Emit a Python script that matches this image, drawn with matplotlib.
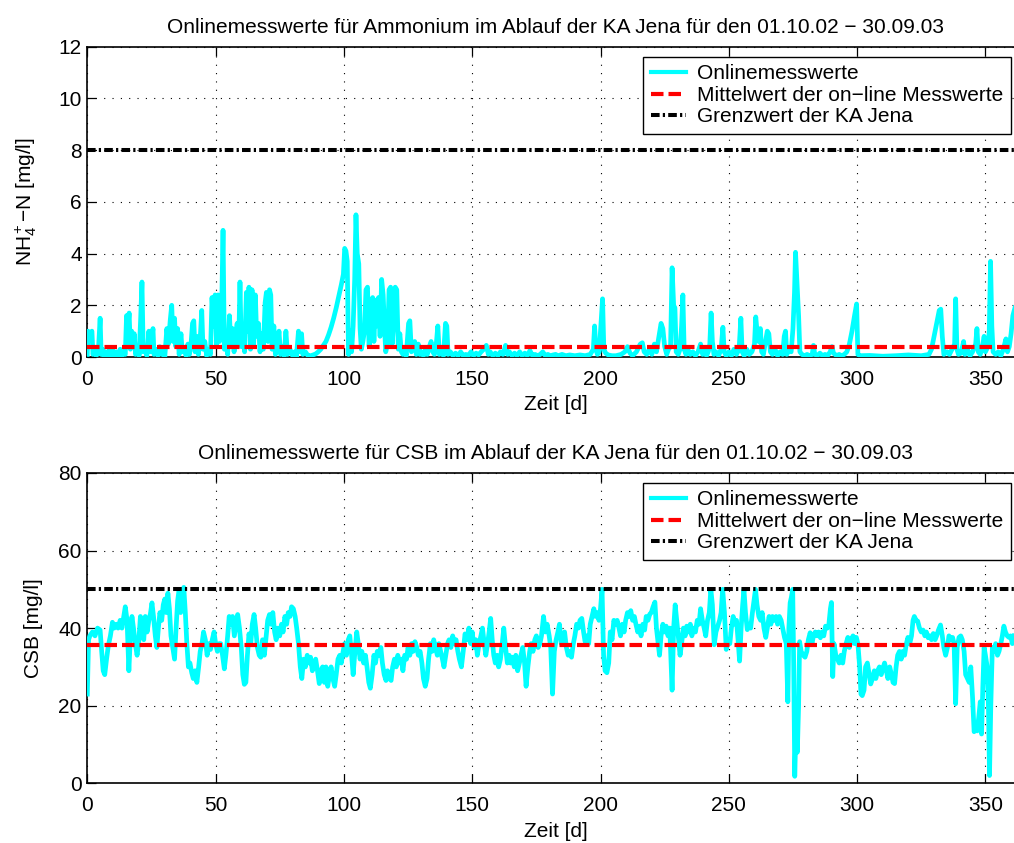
import matplotlib
matplotlib.use("Agg")
import matplotlib.pyplot as plt
from matplotlib.lines import Line2D

plt.rcParams['font.family'] = ['Liberation Sans', 'DejaVu Sans']
plt.rcParams['mathtext.fontset'] = 'custom'
plt.rcParams['mathtext.rm'] = 'Liberation Sans'
plt.rcParams['mathtext.it'] = 'Liberation Sans:italic'
plt.rcParams['mathtext.bf'] = 'Liberation Sans:bold'
plt.rcParams['lines.scale_dashes'] = False

# ---------------- data ----------------
x_ticks = [0, 50, 100, 150, 200, 250, 300, 350]
nh4_yticks = [0, 2, 4, 6, 8, 10, 12]
csb_yticks = [0, 20, 40, 60, 80]

nh4_days = [
    0, 0.3, 1, 1.8, 2.2, 3, 3.5, 4.3, 5, 5.4, 6, 6.5, 7.2, 8, 8.7, 9.3, 10, 10.6, 11.3, 12,
    12.8, 13.5, 14.2, 14.8, 15.3, 15.8, 16.3, 16.8, 17.3, 17.8, 18.3, 18.8, 19.5, 20.2, 20.8,
    21.3, 21.8, 22.5, 23.2, 24, 24.5, 25, 25.6, 26, 26.8, 27.5, 28.2, 29, 29.6, 30.2, 31,
    31.6, 32.3, 32.9, 33.4, 34, 34.5, 35.2, 35.8, 36.5, 37, 37.8, 38.5, 39.2, 39.8, 40.5, 41,
    41.5, 42, 42.7, 43.3, 44, 44.6, 45.1, 45.8, 46.5, 47.2, 48, 48.6, 49.2, 49.8, 50.4, 51,
    51.5, 52.2, 52.9, 53.4, 54, 54.7, 55.4, 56, 56.6, 57.2, 57.8, 58.4, 59, 59.5, 60, 60.5,
    61.3, 62, 62.5, 63, 63.6, 64.2, 64.8, 65.5, 66, 66.7, 67.3, 68, 68.6, 69.3, 69.8, 70.4,
    71, 71.5, 72, 72.7, 73.3, 74, 74.7, 75.3, 76, 76.7, 77.4, 78, 79, 80, 80.8, 81.5, 82.3,
    82.8, 83.5, 84, 85, 86, 87, 88, 89, 90, 91, 92, 93, 94, 95, 96, 97, 98, 99, 99.8, 100.3,
    100.8, 101.3, 101.8, 102.4, 103, 103.6, 104.2, 104.7, 105.2, 105.8, 106.3, 106.8, 107.4,
    108, 108.6, 109.2, 109.8, 110.5, 111.2, 111.7, 112.3, 112.9, 113.5, 114.1, 114.7, 115.3,
    115.8, 116.3, 117, 117.6, 118.2, 118.8, 119.4, 120, 120.6, 121.2, 121.8, 122.4, 123,
    123.6, 124.3, 125.2, 125.7, 126.3, 127, 127.6, 128.2, 129, 129.6, 130.3, 131, 131.8,
    132.5, 133.3, 134, 134.6, 135.3, 136, 136.6, 137.2, 138, 138.8, 139.6, 140.1, 140.6,
    141.5, 142.5, 143.5, 144.5, 145.5, 146.5, 147.5, 148.5, 149.5, 150.5, 151.5, 152.5,
    153.5, 154.5, 155.5, 156.3, 157, 158, 159, 160, 161, 162, 163, 163.8, 164.5, 165.5,
    166.5, 167.5, 168.5, 169.5, 170.5, 171.5, 172.5, 173.5, 174.5, 175.5, 176.5, 177.5,
    178.5, 179.5, 180.5, 181.5, 182.5, 183.5, 185, 186.5, 188, 190, 192, 194, 196, 197.2,
    197.7, 198.2, 198.8, 199.5, 200.3, 200.8, 201.3, 202, 203, 204.5, 206, 208, 209.5, 210.5,
    211.5, 212.5, 214, 215.5, 216.3, 217, 218, 219, 220, 221, 221.8, 222.8, 223.6, 224.3,
    225, 225.8, 226.5, 227.3, 227.9, 228.5, 229, 229.5, 230.3, 231, 231.6, 232.1, 232.6,
    233.3, 234, 235, 236, 237, 238, 239, 239.8, 240.5, 241.3, 242, 242.6, 243.1, 243.6,
    244.2, 245, 246, 247, 247.7, 248.2, 249, 250, 251, 252, 253, 254, 254.7, 255.2, 256,
    257, 258, 259, 260, 260.5, 261, 261.6, 262.3, 262.8, 263.5, 264.3, 265, 265.6, 266.2,
    267, 268, 269, 270, 271, 271.6, 272.1, 272.6, 273.5, 274.3, 275, 275.6, 276, 276.5,
    277.2, 277.7, 278.5, 279.5, 280.5, 281.5, 282.5, 283, 283.5, 284.5, 285.5, 286.5, 287.5,
    288.5, 289.5, 290.2, 290.8, 292, 293, 294, 295, 296, 297, 298, 299, 299.8, 300.3, 301,
    305, 310, 315, 320, 325, 328, 329, 330, 331, 332, 332.6, 333.2, 333.8, 335, 336, 337,
    338, 338.4, 338.9, 339.5, 340.5, 341.5, 342, 343, 344, 345, 346.2, 346.7, 347.2, 348,
    349, 349.5, 350, 351, 351.5, 352, 352.5, 353, 354, 355, 356, 357, 358, 358.6, 359.3,
    360, 360.7, 361.5]
nh4_vals = [
    0.1, 1.0, 0.9, 1.0, 0.1, 0.3, 0.05, 0.2, 1.5, 0.1, 0.3, 0.05, 0.2, 0.0, 0.3, 0.05, 0.25,
    0.0, 0.2, 0.05, 0.3, 0.05, 0.2, 0.1, 1.6, 1.1, 1.7, 0.3, 1.0, 0.5, 0.9, 0.1, 0.3, 0.05,
    1.5, 2.9, 0.2, 0.4, 0.05, 1.0, 0.2, 0.6, 1.1, 0.1, 0.3, 0.05, 0.4, 0.1, 0.3, 0.0, 1.1,
    0.5, 1.4, 2.0, 0.6, 1.5, 0.4, 1.1, 0.1, 0.9, 0.2, 0.3, 0.05, 0.5, 0.1, 0.6, 1.3, 1.4,
    0.2, 0.8, 0.1, 0.7, 1.8, 0.3, 0.6, 0.05, 0.3, 0.1, 2.3, 1.2, 2.4, 0.4, 2.4, 0.6, 1.0,
    4.9, 0.3, 0.6, 0.1, 1.6, 0.4, 1.1, 0.2, 0.9, 1.3, 0.5, 2.9, 0.4, 1.0, 0.2, 2.5, 1.0,
    2.7, 0.3, 2.6, 0.4, 2.4, 0.8, 1.3, 0.2, 0.9, 0.3, 2.1, 2.5, 0.6, 2.6, 2.4, 0.3, 1.2,
    0.1, 0.3, 1.0, 0.1, 0.4, 0.05, 1.0, 0.1, 0.3, 0.05, 0.2, 0.0, 1.0, 0.2, 0.9, 0.1, 0.2,
    0.05, 0.05, 0.08, 0.12, 0.2, 0.3, 0.45, 0.6, 0.85, 1.15, 1.5, 1.9, 2.35, 2.8, 3.2, 4.2,
    4.1, 3.7, 0.1, 1.0, 0.2, 1.2, 3.0, 5.5, 4.0, 3.6, 1.1, 0.3, 0.6, 1.0, 2.6, 2.7, 0.4,
    1.1, 2.3, 0.6, 2.2, 1.2, 2.3, 0.8, 3.0, 2.4, 1.2, 0.2, 0.5, 2.6, 2.7, 0.5, 1.3, 2.7,
    2.6, 0.3, 0.9, 0.2, 0.1, 0.3, 0.05, 1.3, 1.4, 0.2, 0.5, 0.6, 0.1, 0.5, 0.1, 0.2, 0.05,
    0.3, 0.1, 0.4, 0.6, 0.2, 0.1, 0.5, 1.2, 0.1, 0.2, 0.05, 1.3, 1.2, 0.1, 0.2, 0.05, 0.15,
    0.05, 0.2, 0.05, 0.1, 0.05, 0.2, 0.05, 0.15, 0.08, 0.2, 0.3, 0.45, 0.1, 0.2, 0.05, 0.15,
    0.05, 0.2, 0.1, 0.45, 0.1, 0.2, 0.05, 0.15, 0.05, 0.2, 0.05, 0.15, 0.05, 0.25, 0.05,
    0.1, 0.05, 0.1, 0.2, 0.05, 0.1, 0.05, 0.08, 0.1, 0.05, 0.1, 0.05, 0.08, 0.05, 0.08,
    0.05, 0.1, 0.3, 1.2, 0.3, 0.1, 0.2, 1.5, 2.25, 0.3, 0.15, 0.08, 0.05, 0.05, 0.1, 0.2,
    0.4, 0.15, 0.05, 0.2, 0.5, 0.55, 0.2, 0.1, 0.3, 0.1, 0.5, 0.2, 0.8, 1.3, 1.1, 0.4, 0.1,
    0.3, 0.4, 3.45, 2.0, 1.9, 0.2, 0.1, 0.3, 1.2, 2.4, 0.3, 0.1, 0.3, 0.1, 0.2, 0.05, 0.2,
    0.5, 0.1, 0.3, 0.05, 0.2, 0.5, 1.7, 0.6, 0.1, 0.2, 0.05, 0.3, 1.15, 0.2, 0.05, 0.2,
    0.05, 0.3, 0.1, 0.3, 1.5, 0.2, 0.05, 0.3, 0.1, 0.2, 0.5, 1.55, 1.0, 0.6, 1.1, 0.2, 0.1,
    0.6, 1.0, 0.9, 0.2, 0.1, 0.3, 0.05, 0.2, 0.1, 0.8, 1.0, 0.1, 0.3, 0.2, 1.1, 2.5, 4.05,
    3.0, 1.6, 0.2, 0.1, 0.05, 0.1, 0.05, 0.1, 0.45, 0.1, 0.05, 0.15, 0.05, 0.1, 0.05, 0.2,
    0.4, 0.15, 0.05, 0.1, 0.05, 0.1, 0.2, 0.5, 1.0, 1.6, 2.05, 0.1, 0.05, 0.06, 0.03, 0.05,
    0.08, 0.05, 0.1, 0.3, 0.8, 1.3, 1.8, 1.85, 0.8, 0.1, 0.2, 0.1, 0.3, 0.5, 2.25, 0.3, 0.1,
    0.15, 0.6, 0.1, 0.3, 0.05, 0.2, 0.5, 1.1, 0.2, 0.1, 0.5, 0.8, 0.2, 0.4, 1.0, 3.7, 1.2,
    0.2, 0.1, 0.2, 0.05, 0.3, 0.7, 0.2, 0.4, 0.9, 1.6, 1.9]
nh4_mean = 0.37
nh4_limit = 8

csb_days = [
    0, 0.5, 1, 2, 3, 4, 5, 5.6, 6.2, 6.8, 7.5, 8.2, 9, 9.8, 10.5, 11.3, 12, 12.8, 13.5, 14.2,
    14.8, 15.5, 16.2, 16.8, 17.4, 18, 18.7, 19.4, 20, 20.7, 21.4, 22, 22.6, 23.3, 24, 24.6,
    25.2, 25.8, 26.5, 27.1, 27.7, 28.3, 29, 29.6, 30.2, 30.8, 31.4, 32, 32.6, 33.3, 34,
    34.6, 35.2, 35.8, 36.4, 37, 37.6, 38.2, 38.8, 39.4, 40, 40.7, 41.3, 42, 42.7, 43.4, 44,
    44.7, 45.3, 46, 46.7, 47.4, 48, 48.7, 49.4, 50, 50.7, 51.4, 52, 52.7, 53.4, 54, 54.7,
    55.3, 56, 56.6, 57.3, 58, 58.6, 59.3, 60, 60.6, 61.2, 61.8, 62.4, 63, 63.7, 64.3, 65,
    65.6, 66.3, 67, 67.6, 68.3, 69, 69.7, 70.3, 71, 71.6, 72.3, 73, 73.6, 74.3, 75, 75.7,
    76.3, 77, 77.7, 78.3, 79, 79.6, 80.3, 81, 81.6, 82.3, 83, 83.6, 84.3, 85, 85.7, 86.4,
    87, 87.7, 88.4, 89, 89.7, 90.4, 91, 91.7, 92.4, 93, 93.7, 94.4, 95, 95.7, 96.4, 97,
    97.7, 98.4, 99, 99.7, 100.3, 101, 101.7, 102.3, 103, 103.6, 104.3, 105, 105.6, 106.3,
    107, 107.7, 108.4, 109, 109.7, 110.3, 111, 111.7, 112.3, 113, 113.7, 114.4, 115, 115.7,
    116.4, 117, 117.7, 118.4, 119, 119.7, 120.4, 121, 121.7, 122.4, 123, 123.7, 124.4, 125,
    125.7, 126.4, 127, 127.7, 128.4, 129, 129.7, 130.4, 131, 131.7, 132.4, 133, 133.7,
    134.4, 135, 135.7, 136.4, 137, 137.7, 138.4, 139, 139.7, 140.4, 141, 141.7, 142.4, 143,
    143.7, 144.4, 145, 145.8, 146.5, 147.2, 148, 148.7, 149.4, 150, 150.7, 151.4, 152,
    152.7, 153.4, 154, 154.7, 155.3, 156, 156.6, 157.2, 157.8, 158.4, 159, 159.7, 160.3,
    161, 161.7, 162.3, 163, 163.7, 164.4, 165, 165.7, 166.4, 167, 167.7, 168.4, 169, 169.7,
    170.4, 171, 171.7, 172.4, 173, 173.7, 174.4, 175, 175.7, 176.4, 177, 177.8, 178.5,
    179.2, 180, 180.6, 181.3, 182, 182.7, 183.4, 184, 184.7, 185.4, 186, 186.7, 187.4, 188,
    188.7, 189.4, 190, 190.7, 191.4, 192, 192.7, 193.4, 194, 194.7, 195.4, 196, 196.7,
    197.4, 198, 198.7, 199.4, 200, 200.6, 201.2, 201.8, 202.5, 203.2, 203.8, 204.5, 205.2,
    205.8, 206.5, 207.2, 207.8, 208.5, 209.2, 209.8, 210.5, 211.2, 211.8, 212.5, 213.2,
    213.8, 214.5, 215.2, 215.8, 216.5, 217.2, 217.8, 218.5, 219.2, 219.8, 220.5, 221.2,
    221.8, 222.5, 223, 223.6, 224.3, 225, 225.6, 226.3, 227, 227.9, 228.5, 229.1, 229.7,
    230.3, 231, 231.6, 232.3, 233, 233.6, 234.3, 235, 235.6, 236.3, 237, 237.7, 238.4, 239,
    239.7, 240.4, 241, 241.7, 242.4, 243, 243.6, 244.3, 245, 245.7, 246.4, 247, 247.6,
    248.3, 249, 249.7, 250.4, 251, 251.7, 252.4, 253, 253.6, 254.2, 254.8, 255.4, 255.9,
    256.5, 257.2, 257.8, 258.5, 259.2, 259.8, 260.4, 261, 261.7, 262.4, 263, 263.7, 264.4,
    265, 265.7, 266.4, 267, 267.7, 268.4, 269, 269.7, 270.4, 271, 271.7, 272.4, 273, 273.4,
    273.9, 274.4, 274.9, 275.3, 275.7, 276.2, 276.7, 277.2, 277.6, 278.2, 279, 279.7,
    280.4, 281, 281.7, 282.4, 283, 283.7, 284.4, 285, 285.7, 286.4, 287, 287.7, 288.4, 289,
    289.6, 290, 290.5, 291, 291.7, 292.4, 293, 293.7, 294.4, 295, 295.7, 296.4, 297, 297.7,
    298.4, 299, 299.7, 300.3, 301, 301.5, 302, 302.7, 303.3, 304, 304.7, 305.3, 306, 306.7,
    307.3, 308, 308.7, 309.4, 310, 310.7, 311.4, 312, 312.7, 313.4, 314, 314.6, 315.2,
    315.8, 316.5, 317.2, 317.8, 318.5, 319.2, 319.8, 320.5, 321.2, 321.8, 322.3, 323, 323.6,
    324.3, 325, 325.7, 326.4, 327, 327.7, 328.4, 329, 329.7, 330.4, 331, 331.7, 332.5,
    333.2, 333.8, 334.5, 335.2, 335.8, 336.5, 337.2, 337.8, 338.4, 339, 339.7, 340.4, 341,
    341.7, 342.3, 343, 343.7, 344.3, 345, 345.6, 346.2, 346.8, 347.4, 348, 348.5, 349,
    349.5, 350, 350.7, 351.2, 351.6, 352.1, 352.7, 353.3, 354, 354.7, 355.3, 356, 356.6,
    357.2, 357.8, 358.5, 359.2, 359.8, 360.5, 361.2]
csb_vals = [
    23, 37, 38, 39, 38, 40, 39.5, 34, 29, 28, 32, 35.5, 38, 41.5, 40, 41, 40, 42, 40, 43,
    45.5, 42, 29, 38, 43, 40, 36, 33, 36, 43, 40, 37, 43, 39, 42, 43.7, 46.5, 43, 38, 35,
    40, 44, 42, 46, 47.5, 44, 49, 45, 38, 35, 32, 40, 47, 50, 44, 48, 50.5, 44, 36, 30, 31,
    28.5, 27, 29, 26, 30, 34, 36, 39, 37, 33, 36, 34.5, 37, 39, 36, 34, 36, 36, 33, 29.5,
    33, 38, 43, 41, 43, 38, 41, 43.5, 40, 35, 28, 25.5, 26, 33, 38.5, 36, 41, 43.5, 40, 35,
    33, 32.5, 37, 33, 38, 42, 43.5, 41, 44, 39, 37, 40, 38, 41, 39, 43, 41, 44, 43, 45.5,
    45, 43, 40, 36, 30, 27, 32, 30, 33, 31, 32.5, 29, 31, 32, 29, 25.7, 29, 30, 26, 30, 25,
    28, 30, 27, 25, 28, 32, 33, 31, 34, 36, 33, 37, 38, 33, 28, 34, 39, 36, 32, 34, 31, 33,
    30, 26, 24.5, 28, 33, 31, 34, 33, 35, 31, 28, 26.5, 29, 27, 26.5, 30, 32, 30, 33, 31,
    32, 29, 33, 32, 35, 33, 36, 34, 36.5, 35, 33, 34, 31, 27, 25, 27, 32, 36, 34, 37, 35,
    33, 36, 34, 32, 30, 33, 36, 37, 35, 38, 36, 37, 34, 32, 30, 34, 38.5, 37, 40, 36, 39,
    35, 37, 33, 36, 38, 40, 36, 33, 36, 39, 42.5, 37, 33, 31, 33, 30, 32, 36, 40, 35, 31,
    33, 31, 32.5, 30, 33, 29, 31, 33, 35, 31, 25, 30, 34, 36, 34, 37, 38, 35, 36, 38, 43,
    39, 41, 38, 35, 23, 34, 37, 39, 41, 36, 38, 39, 35, 33, 34, 32.5, 36, 38, 41, 40, 42,
    42.5, 39, 36.5, 38, 36, 41, 43, 45, 43, 44, 42, 45, 50, 33, 29, 28.5, 31, 39, 37, 42,
    41, 42, 40, 38, 41, 39, 42, 44, 43, 44.5, 42, 43, 41, 39, 40.5, 38, 41, 39.5, 43, 42,
    43.6, 44, 45.5, 46.7, 40, 36, 33, 38, 41, 39, 40.5, 38, 40, 24, 40, 46, 42, 38, 33, 36,
    40, 38, 40.5, 39, 41, 38, 40, 39, 42, 41, 45, 42, 40, 38, 42, 44, 50, 46, 35.7, 39,
    40.5, 42, 44, 50, 44, 34.5, 37, 36, 40, 43, 41, 42, 37, 31.5, 40, 46, 50, 44, 39.6, 41,
    40, 44, 47, 50, 46, 43, 42, 44, 40, 37.6, 40, 43, 41, 43, 42, 43, 41, 43, 42, 40, 37.6,
    36, 21, 40, 46.5, 48, 50, 30, 1.8, 15, 8, 20, 36.5, 34, 33, 32.5, 34, 37, 38.8, 36, 38,
    39, 38, 39, 37.5, 39, 38, 40.5, 40, 41, 45, 46.6, 27.5, 36, 33, 32, 31, 33, 31, 34, 36,
    37.6, 35, 37, 38, 36, 37.6, 36, 30, 23, 22.6, 24, 30, 31, 28, 25.6, 27, 29, 27, 29, 30,
    28, 29.5, 31, 29, 27, 30, 28, 26, 25.7, 30, 33, 34, 32, 34, 33, 36, 37.6, 36, 38, 42,
    43, 42, 41.8, 40, 39, 39.5, 38, 39, 37.5, 38, 37, 38.6, 37, 38, 39.5, 40.8, 38, 35, 33,
    35, 38, 37, 37.6, 36, 20.5, 35, 37.6, 38, 37, 34, 28, 27, 26, 30, 22, 13.3, 14, 13.5,
    17, 21, 12.7, 25, 35, 33, 30, 19.5, 2, 20, 35, 34, 36, 33, 34, 36, 38, 40.5, 39, 38,
    37.6, 38, 36, 38]
csb_mean = 35.6
csb_limit = 50

labels = ['Onlinemesswerte', 'Mittelwert der on\u2212line Messwerte', 'Grenzwert der KA Jena']
title1 = 'Onlinemesswerte f\u00fcr Ammonium im Ablauf der KA Jena f\u00fcr den 01.10.02 \u2212 30.09.03'
title2 = 'Onlinemesswerte f\u00fcr CSB im Ablauf der KA Jena f\u00fcr den 01.10.02 \u2212 30.09.03'

# ---------------- styling ----------------
FS = 15
CYAN = '#00FFFF'
RED_DASH = (0, (9.0, 3.6))
BLACK_DASHDOT = (0, (6.2, 2.3, 1.6, 2.3))
GRID = (0, (0.8, 5.2))

fig = plt.figure(figsize=(10.14, 8.43), dpi=100)
L = 87.3 / 1014
W = 936.6 / 1014
ax1 = fig.add_axes([L, 1 - 357.0 / 843, W, 310.3 / 843])
ax2 = fig.add_axes([L, 1 - 783.3 / 843, W, 310.4 / 843])


def draw(ax, days, vals, mean, limit, yticks, title, ylabel, leg_top, ylab_x):
    ax.plot(days, vals, color=CYAN, lw=3.4, zorder=3, solid_joinstyle='round')
    ax.plot([days[0], days[-1]], [mean, mean], color='red', lw=3.0,
            linestyle=RED_DASH, dash_capstyle='butt', zorder=4)
    ax.plot([days[0], days[-1]], [limit, limit], color='black', lw=2.9,
            linestyle=BLACK_DASHDOT, dash_capstyle='butt', zorder=4)
    ax.set_xlim(0, 365)
    ax.set_ylim(yticks[0], yticks[-1])
    ax.set_xticks(x_ticks)
    ax.set_yticks(yticks)
    ax.tick_params(direction='in', length=6.5, width=0.9, top=True, right=True,
                   labelsize=FS)
    ax.tick_params(axis='x', pad=9)
    ax.tick_params(axis='y', pad=4)
    ax.grid(True, color='black', linestyle=GRID, linewidth=0.8)
    ax.set_axisbelow(True)
    for s in ax.spines.values():
        s.set_linewidth(1.2)
    ax.set_title(title, fontsize=FS, pad=9.9)
    ax.set_xlabel('Zeit [d]', fontsize=FS, labelpad=5)
    ax.set_ylabel(ylabel, fontsize=FS)
    ax.yaxis.set_label_coords(ylab_x, 0.5)
    handles = [Line2D([], [], color=CYAN, lw=3.0),
               Line2D([], [], color='red', lw=3.0, linestyle=RED_DASH, dash_capstyle='butt'),
               Line2D([], [], color='black', lw=2.9, linestyle=BLACK_DASHDOT, dash_capstyle='butt')]
    leg = ax.legend(handles, labels, loc='upper right',
                    bbox_to_anchor=(1011.0 / 1014, leg_top), bbox_transform=fig.transFigure,
                    borderaxespad=0, frameon=True, fancybox=False, edgecolor='black',
                    framealpha=1, fontsize=FS, handlelength=1.7, handletextpad=0.55,
                    labelspacing=0.12, borderpad=0.35)
    leg.get_frame().set_linewidth(1.0)


draw(ax1, nh4_days, nh4_vals, nh4_mean, nh4_limit, nh4_yticks, title1,
     'NH$_4^+$\u2212N [mg/l]', 1 - 57.0 / 843, -0.052)
draw(ax2, csb_days, csb_vals, csb_mean, csb_limit, csb_yticks, title2,
     'CSB [mg/l]', 1 - 483.0 / 843, -0.047)

fig.savefig('out.png', dpi=100)
